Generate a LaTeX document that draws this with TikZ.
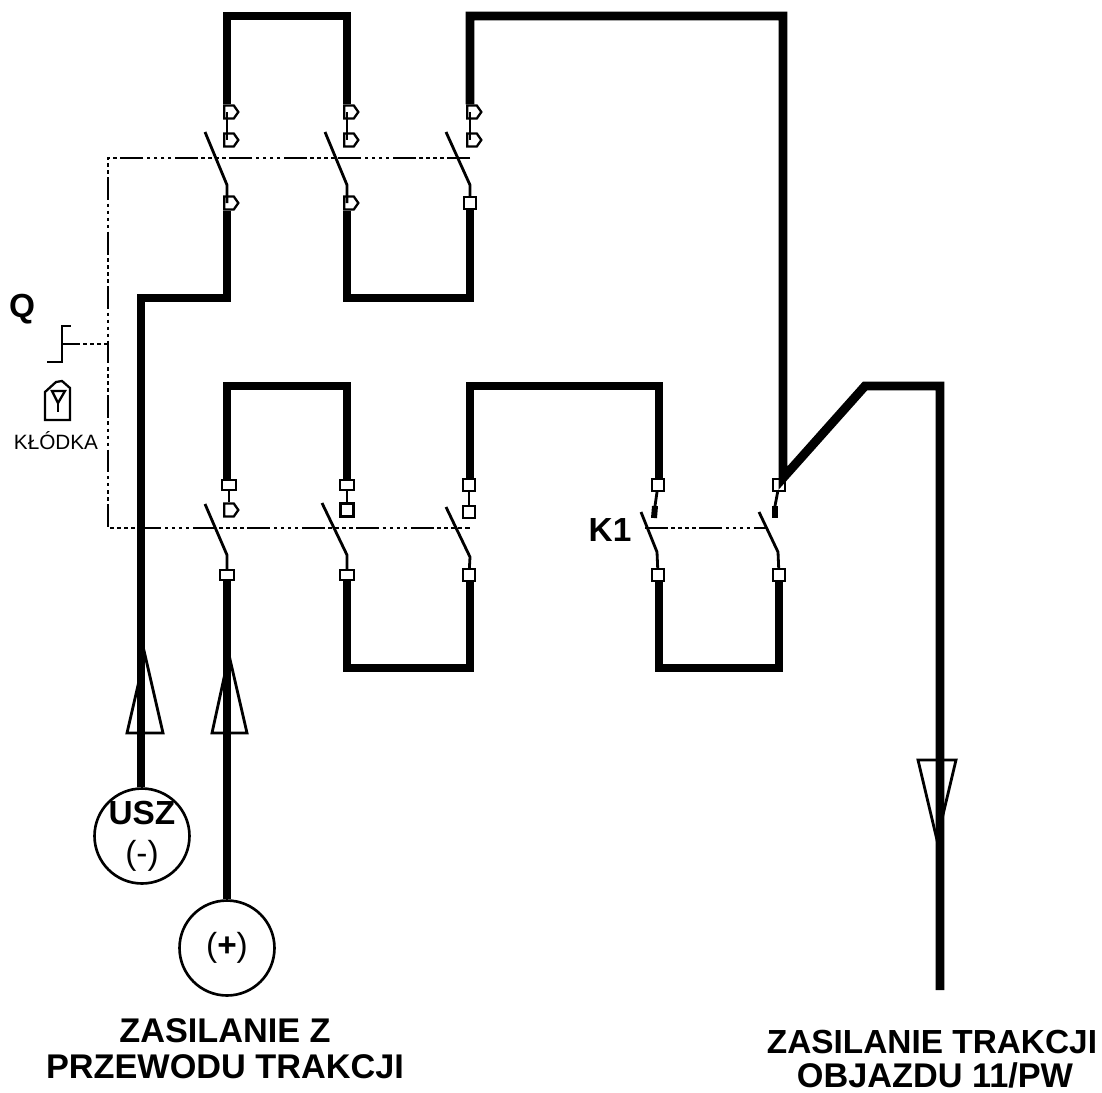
\documentclass[tikz,border=0pt]{standalone}
\usepackage{fontspec}
\setmainfont{Liberation Sans}
\usetikzlibrary{shapes.symbols}
\tikzset{
  wire/.style={line width=5.1pt,line cap=butt,line join=miter},
  stub/.style={line width=3.4pt},
  blade/.style={line width=1.6pt},
  link/.style={line width=1.4pt,dash pattern=on 13pt off 2pt on 2pt off 2pt on 2pt off 2pt on 2pt off 2pt on 2pt off 2pt},
  dotlink/.style={line width=1.4pt,dash pattern=on 2pt off 2pt},
  term/.style={draw,fill=white,line width=1.3pt,inner sep=0pt,minimum width=6.5pt,minimum height=6.5pt},
  termflat/.style={term,minimum width=8pt,minimum height=5.5pt},
  termhome/.style={draw,fill=white,line width=1.3pt,inner sep=0pt,shape=signal,signal to=east,signal pointer angle=110,minimum width=8pt,minimum height=7.5pt},
  supply/.style={draw,circle,line width=1.5pt,fill=white,inner sep=-3pt,minimum size=1.9cm,align=center,font=\fontsize{19}{23}\selectfont},
  flowtip/.style={draw,line width=1.6pt,line join=miter},
  caption/.style={font=\fontsize{19.5}{19.5}\selectfont\bfseries,inner sep=0pt}
}
\begin{document}
\begin{tikzpicture}[x=0.02cm,y=-0.02cm]
  \useasboundingbox (0,0) rectangle (1102,1092);

  % upper bank
  \node[termhome] (Qa1) at (229,112) {};
  \node[termhome] (Qb1) at (349,112) {};
  \node[termhome] (Qc1) at (472,112) {};
  \node[termhome] (Qa2) at (229,140) {};
  \node[termhome] (Qb2) at (349,140) {};
  \node[termhome] (Qc2) at (472,140) {};
  \node[termhome] (Qa3) at (229,203) {};
  \node[termhome] (Qb3) at (349,203) {};
  \node[term] (Qc3) at (470,203) {};
  \coordinate (Qa4) at (205,132);
  \coordinate (Qb4) at (325,132);
  \coordinate (Qc4) at (446,132);
  \coordinate (Qa5) at (227,185);
  \coordinate (Qb5) at (347,185);
  \coordinate (Qc5) at (470,185);
  \coordinate (Ta) at (227,16);
  \coordinate (Tb) at (347,16);
  \coordinate (Tc) at (470,16);
  \coordinate (Td) at (783,16);
  \coordinate (Ua) at (227,298);
  \coordinate (Ub) at (347,298);
  \coordinate (Uc) at (470,298);
  \coordinate (Ud) at (141,298);

  % lower bank
  \node[termflat] (Ra1) at (229,485) {};
  \node[termflat] (Rb1) at (347,485) {};
  \node[term] (Rc1) at (469,485) {};
  \node[term] (Rd1) at (658,485) {};
  \node[term] (Re1) at (779,485) {};
  \node[termhome] (Ra2) at (229,510) {};
  \node[term,minimum width=7.5pt,minimum height=7.5pt] (Rb2) at (347,510) {};
  \node[term] (Rc2) at (469,512) {};
  \node[termflat] (Ra3) at (227,575) {};
  \node[termflat] (Rb3) at (347,575) {};
  \node[term] (Rc3) at (469,575) {};
  \node[term] (Rd3) at (658,575) {};
  \node[term] (Re3) at (779,575) {};
  \coordinate (Ra4) at (205,504);
  \coordinate (Rb4) at (322,503);
  \coordinate (Rc4) at (446,507);
  \coordinate (Rd4) at (641,512);
  \coordinate (Re4) at (759,512);
  \coordinate (Ra5) at (227,555);
  \coordinate (Rb5) at (347,555);
  \coordinate (Rc5) at (470,557);
  \coordinate (Rd5) at (657,552);
  \coordinate (Re5) at (778,552);
  \coordinate (Rd2) at (655,506);
  \coordinate (Re2) at (775,506);
  \coordinate (Rd6) at (654,518);
  \coordinate (Re6) at (775,518);
  \coordinate (Va) at (227,386);
  \coordinate (Vb) at (347,386);
  \coordinate (Vc) at (470,386);
  \coordinate (Vd) at (659,386);
  \coordinate (Ve) at (865,386);
  \coordinate (Vf) at (940,386);
  \coordinate (Wb) at (347,668);
  \coordinate (Wc) at (470,668);
  \coordinate (Wd) at (659,668);
  \coordinate (We) at (779,668);
  \coordinate (Xa) at (783,478);
  \coordinate (Xb) at (940,990);

  % sources
  \node[supply] (usz) at (142,836) {\bfseries USZ\\(-)};
  \node[supply] (plus) at (227,948) {(\textbf{+})};

  % control link
  \coordinate (La) at (470,158);
  \coordinate (Lb) at (108,158);
  \coordinate (Lc) at (108,528);
  \coordinate (Ld) at (470,528);
  \coordinate (Le) at (645,528);
  \coordinate (Lf) at (766,528);
  \coordinate (Lg) at (108,344);
  \coordinate (Lh) at (62,344);
  \coordinate (Li) at (47,362);
  \coordinate (Lj) at (62,362);
  \coordinate (Lk) at (62,326);
  \coordinate (Ll) at (71,326);

  \draw[link] (La) -- (Lb) -- (Lc) -- (Ld);
  \draw[link] (Le) -- (Lf);
  \draw[dotlink] (Lg) -- (Lh);
  \draw[blade] (Li) -- (Lj) -- (Lk) -- (Ll);
  \draw[blade] (Lh) -- ++(14,0);

  % padlock
  \node[font=\fontsize{19}{19}\selectfont\bfseries,inner sep=0pt] (Qlabel) at (22,309) {Q};
  \draw[line width=1.3pt] (45,420) -- (45,392) -- (56,382) -- (62,381) -- (70,388) -- (70,420) -- cycle;
  \draw[line width=1.3pt,fill=white] (52,391) -- (65,391) -- (58,403) -- cycle;
  \draw[line width=1.3pt] (58,403) -- (58,412);
  \node[font=\fontsize{11.8}{11.8}\selectfont,inner sep=0pt] (klodka) at (56,441) {KŁÓDKA};
  \node[font=\fontsize{19}{19}\selectfont\bfseries,inner sep=0pt] (K1) at (610,530) {K1};

  % wires
  \draw[wire] (Ta |- Qa1.north) -- (Ta) -- (Tb) -- (Tb |- Qb1.north);
  \draw[wire] (Tc |- Qc1.north) -- (Tc) -- (Td) -- (Xa) -- (Ve) -- (Vf) -- (Xb);
  \draw[wire] (Ua |- Qa3.south) -- (Ua) -- (Ud) -- (Ud |- usz.north);
  \draw[wire] (Ub |- Qb3.south) -- (Ub) -- (Uc) -- (Qc3);
  \draw[wire] (Va |- Ra1.north) -- (Va) -- (Vb) -- (Rb1);
  \draw[wire] (Vc |- Rc1.north) -- (Vc) -- (Vd) -- (Vd |- Rd1.north);
  \draw[wire] (Ra3) -- (plus);
  \draw[wire] (Rb3) -- (Wb) -- (Wc) -- (Wc |- Rc3.south);
  \draw[wire] (Wd |- Rd3.south) -- (Wd) -- (We) -- (Re3);
  \draw[stub] (Rd2) -- (Rd6);
  \draw[stub] (Re2) -- (Re6);

  % blades
  \draw[blade] (Qa1 -| Ta) -- (Qa2 -| Ta);
  \draw[blade] (Qb1 -| Tb) -- (Qb2 -| Tb);
  \draw[blade] (Qc1 -| Tc) -- (Qc2 -| Tc);
  \draw[blade] (Qa4) -- (Qa5) -- (Qa3 -| Qa5);
  \draw[blade] (Qb4) -- (Qb5) -- (Qb3 -| Qb5);
  \draw[blade] (Qc4) -- (Qc5) -- (Qc3);
  \draw[blade] (Ra1) -- (Ra2);
  \draw[blade] (Rb1) -- (Rb2);
  \draw[blade] (Rc1) -- (Rc2);
  \draw[blade] (Rd1) -- (Rd2);
  \draw[blade] (Re1) -- (Re2);
  \draw[blade] (Ra4) -- (Ra5) -- (Ra3);
  \draw[blade] (Rb4) -- (Rb5) -- (Rb3);
  \draw[blade] (Rc4) -- (Rc5) -- (Rc3);
  \draw[blade] (Rd4) -- (Rd5) -- (Rd3);
  \draw[blade] (Re4) -- (Re5) -- (Re3);

  % flow marks
  \draw[flowtip] (145,655) -- (127,733) -- (163,733) -- cycle;
  \draw[flowtip] (229,655) -- (212,733) -- (247,733) -- cycle;
  \draw[flowtip] (937,840) -- (918,760) -- (956,760) -- cycle;

  \node[caption] (capa) at (225,1031) {ZASILANIE Z};
  \node[caption] (capb) at (225,1067) {PRZEWODU TRAKCJI};
  \node[caption,font=\fontsize{19}{19}\selectfont\bfseries] (capc) at (932,1042) {ZASILANIE TRAKCJI};
  \node[caption] (capd) at (935,1075) {OBJAZDU 11/PW};
\end{tikzpicture}
\end{document}
